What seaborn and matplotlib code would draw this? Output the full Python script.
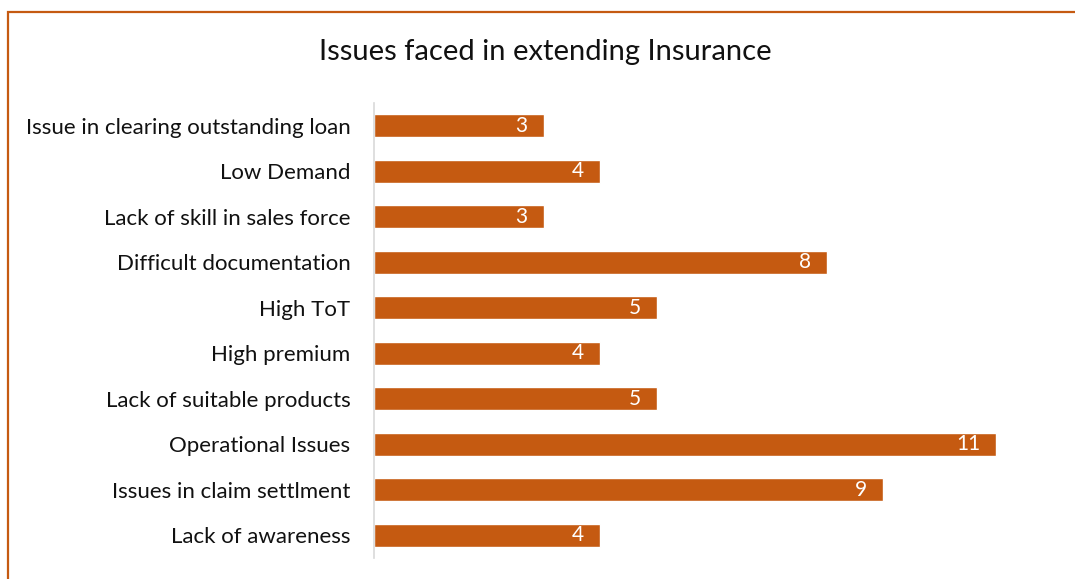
import matplotlib
matplotlib.use("Agg")
import matplotlib.pyplot as plt
import matplotlib.patches as mpatches
import seaborn as sns
import pandas as pd

# chart data (top to bottom as shown)
issues = ["Issue in clearing outstanding loan", "Low Demand", "Lack of skill in sales force",
          "Difficult documentation", "High ToT", "High premium", "Lack of suitable products",
          "Operational Issues", "Issues in claim settlment", "Lack of awareness"]
counts = [3, 4, 3, 8, 5, 4, 5, 11, 9, 4]

df = pd.DataFrame({"issue": issues, "count": counts})

sns.set_style("white")
plt.rcParams["font.family"] = ["Lato", "DejaVu Sans"]

bar_color = "#C55A11"

fig = plt.figure(figsize=(10.75, 5.79), dpi=100)
ax = fig.add_axes([374 / 1075, 1 - 558 / 579, (1053 - 374) / 1075, (558 - 103) / 579])

sns.barplot(data=df, x="count", y="issue", orient="h", color=bar_color,
            width=0.5, ax=ax, saturation=1)

for i, v in enumerate(df["count"]):
    ax.annotate(str(v), xy=(v, i), xytext=(-16, 0), textcoords="offset pixels",
                ha="right", va="center", color="white", fontsize=15)

ax.set_xlim(0, 12)
ax.set_ylim(len(issues) - 0.5, -0.5)
ax.set_xticks([])
ax.set_xlabel("")
ax.set_ylabel("")
ax.tick_params(axis="y", length=0, pad=17, labelsize=16, labelcolor="#111111")
for s in ["top", "right", "bottom"]:
    ax.spines[s].set_visible(False)
ax.spines["left"].set_color("#D9D9D9")
ax.spines["left"].set_linewidth(1.2)

fig.text(545 / 1075, 1 - 52 / 579, "Issues faced in extending Insurance",
         ha="center", va="center", fontsize=21, color="#111111")

# chart border (only top and left edges are visible in the crop)
border = mpatches.Rectangle((8 / 1075, -0.1), 1.2, 1 - 12 / 579 + 0.1,
                            transform=fig.transFigure, fill=False,
                            edgecolor="#C55A11", linewidth=1.6)
fig.patches.append(border)

fig.savefig("out.png", dpi=100)
